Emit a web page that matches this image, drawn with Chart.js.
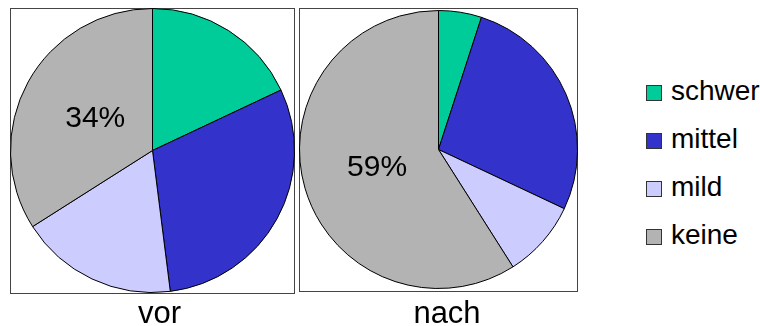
<!DOCTYPE html>
<html>
<head>
<meta charset="utf-8">
<script src="https://cdn.jsdelivr.net/npm/chart.js@4.4.1/dist/chart.umd.min.js"></script>
<style>
  html, body { margin: 0; padding: 0; background: #fff; width: 760px; height: 326px; overflow: hidden;
               font-family: "Liberation Sans", Arial, sans-serif; }
  .frame { position: absolute; box-sizing: border-box; border: 1px solid #444; }
  canvas { position: absolute; }
  #legend { position: absolute; left: 646px; top: 69px; }
  .item { height: 48px; display: flex; align-items: center; }
  .swatch { width: 16px; height: 16px; box-sizing: border-box; border: 1px solid #333; margin-right: 9px; }
  .item span { font-size: 28px; color: #000; position: relative; top: -2px; }
</style>
</head>
<body>
<div class="frame" style="left:10px;top:8px;width:285px;height:286px"></div>
<div class="frame" style="left:299px;top:8px;width:279px;height:284px"></div>
<canvas id="vor" width="285" height="318" style="left:10px;top:8px"></canvas>
<canvas id="nach" width="279" height="318" style="left:299px;top:8px"></canvas>
<div id="legend"></div>

<script>
// Severity categories and slice colours
const categories = ['schwer', 'mittel', 'mild', 'keine'];
const colors = ['#00cc99', '#3333cc', '#ccccff', '#b3b3b3'];

// Share of each category (percent) before and after
const vorValues = [18, 30, 18, 34];
const nachValues = [5, 27, 9, 59];

// Pie captions
const captions = ['vor', 'nach'];

const FONT = '"Liberation Sans", Arial, sans-serif';

// Writes a percentage inside one chosen slice
const sliceLabel = {
  id: 'sliceLabel',
  afterDatasetsDraw(chart, args, opts) {
    const meta = chart.getDatasetMeta(0);
    const arc = meta.data[opts.index];
    if (!arc) return;
    const { x, y, startAngle, endAngle, outerRadius } = arc.getProps(['x', 'y', 'startAngle', 'endAngle', 'outerRadius'], true);
    const mid = (startAngle + endAngle) / 2;
    const r = outerRadius * opts.radius;
    const ctx = chart.ctx;
    ctx.save();
    ctx.font = opts.size + 'px ' + FONT;
    ctx.fillStyle = '#000';
    ctx.textAlign = 'center';
    ctx.textBaseline = 'middle';
    ctx.fillText(chart.data.datasets[0].data[opts.index] + '%', x + Math.cos(mid) * r, y + Math.sin(mid) * r);
    ctx.restore();
  }
};

// Caption under each pie
const caption = {
  id: 'caption',
  afterDraw(chart, args, opts) {
    const ctx = chart.ctx;
    const cx = (chart.chartArea.left + chart.chartArea.right) / 2 + opts.dx;
    ctx.save();
    ctx.font = opts.size + 'px ' + FONT;
    ctx.fillStyle = '#000';
    ctx.textAlign = 'center';
    ctx.textBaseline = 'alphabetic';
    ctx.fillText(opts.text, cx, opts.baseline);
    ctx.restore();
  }
};

function makePie(id, values, text, padding, dx) {
  return new Chart(document.getElementById(id), {
    type: 'pie',
    data: {
      labels: categories,
      datasets: [{
        data: values,
        backgroundColor: colors,
        borderColor: '#000',
        borderWidth: 1,
        hoverOffset: 0
      }]
    },
    options: {
      responsive: false,
      animation: false,
      devicePixelRatio: 1,
      events: [],
      layout: { padding: padding },
      plugins: {
        legend: { display: false },
        tooltip: { enabled: false },
        sliceLabel: { index: 3, radius: 0.46, size: 30 },
        caption: { text: text, dx: dx, baseline: 315, size: 31 }
      }
    },
    plugins: [sliceLabel, caption]
  });
}

makePie('vor', vorValues, captions[0], { top: 0, bottom: 33, left: 0, right: 0 }, 7);
makePie('nach', nachValues, captions[1], { top: 2, bottom: 37, left: 0, right: 0 }, 8.5);

// Legend built from the same categories and colours
const legend = document.getElementById('legend');
categories.forEach((name, i) => {
  const item = document.createElement('div');
  item.className = 'item';
  const sw = document.createElement('div');
  sw.className = 'swatch';
  sw.style.background = colors[i];
  const label = document.createElement('span');
  label.textContent = name;
  item.appendChild(sw);
  item.appendChild(label);
  legend.appendChild(item);
});
</script>
</body>
</html>
